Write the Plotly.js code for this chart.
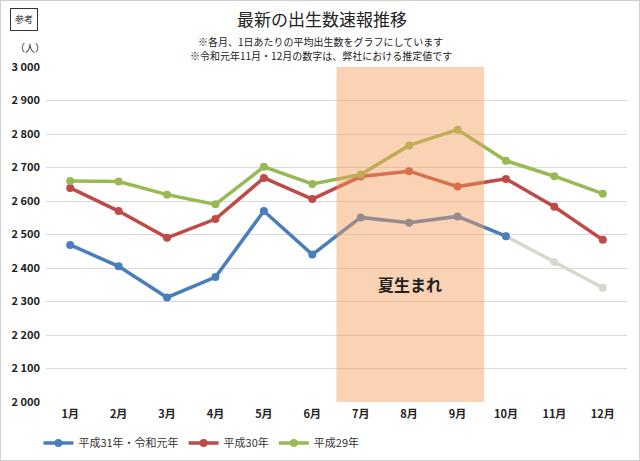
<!DOCTYPE html>
<html>
<head>
<meta charset="utf-8">
<script src="https://cdn.plot.ly/plotly-3.0.1.min.js"></script>
<style>
html,body{margin:0;padding:0;background:#fff;}
#chart{width:640px;height:461px;}
#frame{position:absolute;left:0;top:0;width:638px;height:459px;border:1px solid #d0d0d0;pointer-events:none;}
</style>
</head>
<body>
<div id="chart"></div>
<div id="frame"></div>
<script>
const months = ['1月','2月','3月','4月','5月','6月','7月','8月','9月','10月','11月','12月'];
const reiwa = [2469, 2405, 2312, 2373, 2570, 2440, 2551, 2535, 2554, 2495];
const reiwaEstimate = [2418, 2341];
const heisei30 = [2639, 2570, 2490, 2546, 2669, 2606, 2673, 2689, 2643, 2666, 2583, 2484];
const heisei29 = [2660, 2658, 2619, 2590, 2702, 2651, 2679, 2766, 2813, 2720, 2674, 2622];
const seriesNames = ['平成31年・令和元年', '平成30年', '平成29年'];
const yTicks = [2000, 2100, 2200, 2300, 2400, 2500, 2600, 2700, 2800, 2900, 3000];

const FONT = '"Noto Sans CJK JP", "Noto Sans", sans-serif';
const lw = 3.5, ms = 8;

const estX = months.slice(reiwa.length - 1);
const estY = [reiwa[reiwa.length - 1]].concat(reiwaEstimate);

const traces = [
  {x: estX, y: estY, type: 'scatter', mode: 'lines+markers', showlegend: false,
   line: {color: '#d8d8cc', width: lw}, marker: {color: '#d8d8cc', size: ms}},
  {x: months.slice(0, reiwa.length), y: reiwa, name: seriesNames[0], type: 'scatter', mode: 'lines+markers',
   line: {color: '#4a7ebb', width: lw}, marker: {color: '#4a7ebb', size: ms}},
  {x: months, y: heisei30, name: seriesNames[1], type: 'scatter', mode: 'lines+markers',
   line: {color: '#be4b48', width: lw}, marker: {color: '#be4b48', size: ms}},
  {x: months, y: heisei29, name: seriesNames[2], type: 'scatter', mode: 'lines+markers',
   line: {color: '#98b954', width: lw}, marker: {color: '#98b954', size: ms}}
];

const layout = {
  width: 640, height: 461,
  margin: {l: 46, r: 13, t: 67, b: 59},
  paper_bgcolor: '#ffffff', plot_bgcolor: '#ffffff',
  font: {family: FONT, color: '#222'},
  separators: '. ',
  hovermode: false,
  title: {text: '最新の出生数速報推移', font: {family: FONT, size: 17, color: '#222'},
          x: 0.503, xref: 'container', xanchor: 'center', y: 0.957, yref: 'container', yanchor: 'middle',
          automargin: false},
  xaxis: {type: 'category', categoryorder: 'array', categoryarray: months, automargin: false,
          range: [-0.5, 11.5], showgrid: false, zeroline: false, showline: false, ticks: '',
          ticklabelstandoff: 4,
          tickfont: {family: FONT, size: 11, color: '#222', weight: 'bold'}},
  yaxis: {range: [2000, 3000], tickvals: yTicks, tickformat: ',d', showgrid: true, gridcolor: '#d9d9d9',
          gridwidth: 1, zeroline: false, showline: false, ticks: '', ticklabelstandoff: 5, automargin: false,
          tickfont: {family: FONT, size: 11, color: '#222', weight: 'bold'}},
  legend: {orientation: 'h', xref: 'container', yref: 'container', x: 0.06, xanchor: 'left',
           y: 1 - 443 / 461, yanchor: 'middle',
           font: {family: FONT, size: 11, color: '#333'}, itemwidth: 30, tracegroupgap: 0},
  shapes: [
    {type: 'rect', xref: 'x', yref: 'paper', x0: 5.5, x1: 8.55, y0: 0, y1: 1, layer: 'above',
     fillcolor: 'rgba(245,158,90,0.45)', line: {width: 0}}
  ],
  annotations: [
    {text: '※各月、1日あたりの平均出生数をグラフにしています',
     xref: 'paper', yref: 'paper',
     x: (320 - 46) / 581, y: (402 - 41.5) / 335, xanchor: 'center', yanchor: 'middle', showarrow: false,
     font: {family: FONT, size: 10, color: '#222'}},
    {text: '※令和元年11月・12月の数字は、弊社における推定値です',
     xref: 'paper', yref: 'paper',
     x: (321 - 46) / 581, y: (402 - 55.5) / 335, xanchor: 'center', yanchor: 'middle', showarrow: false,
     font: {family: FONT, size: 10, color: '#222'}},
    {text: '（人）', xref: 'paper', yref: 'paper',
     x: (30 - 46) / 581, y: (402 - 48) / 335, xanchor: 'center', yanchor: 'middle', showarrow: false,
     font: {family: FONT, size: 10, color: '#222'}},
    {text: '参考', xref: 'paper', yref: 'paper',
     x: (24 - 46) / 581, y: (402 - 19) / 335, xanchor: 'center', yanchor: 'middle', showarrow: false,
     font: {family: FONT, size: 9, color: '#222'}, bordercolor: '#333', borderwidth: 1, borderpad: 4},
    {text: '夏生まれ', xref: 'x', yref: 'y', x: 7.02, y: 2353, xanchor: 'center', yanchor: 'middle',
     showarrow: false, font: {family: FONT, size: 16, color: '#222', weight: 'bold'}}
  ]
};

Plotly.newPlot('chart', traces, layout, {displayModeBar: false, staticPlot: true});
</script>
</body>
</html>
